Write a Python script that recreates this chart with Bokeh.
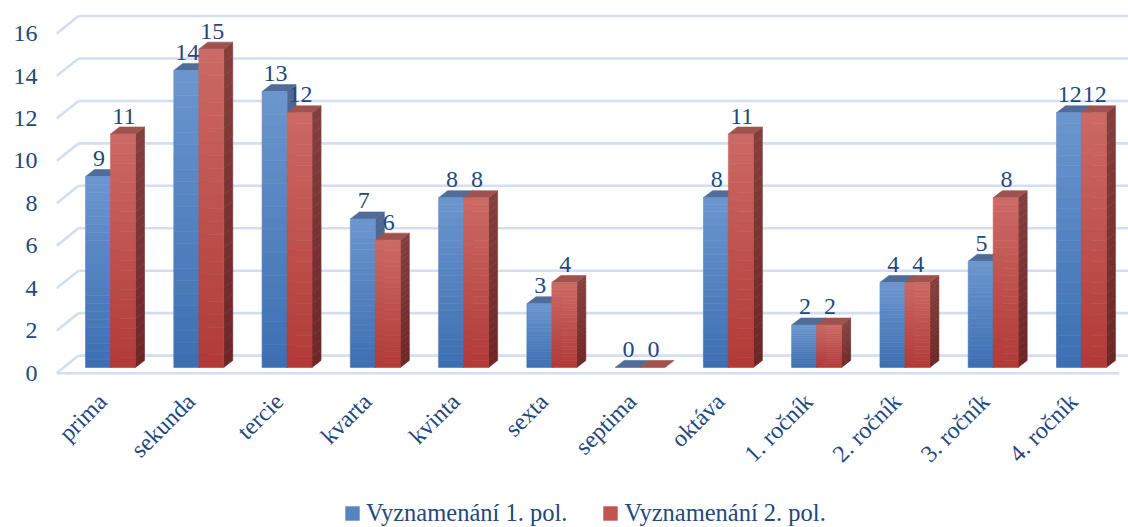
import math
from bokeh.plotting import figure
from bokeh.models import Range1d, FixedTicker, Legend, LegendItem
from bokeh.embed import file_html
from bokeh.resources import INLINE
from bokeh.core.properties import value

# ---------------- data ----------------
categories = ["prima", "sekunda", "tercie", "kvarta", "kvinta", "sexta", "septima",
              "oktáva", "1. ročník", "2. ročník", "3. ročník", "4. ročník"]
series1 = [9, 14, 13, 7, 8, 3, 0, 8, 2, 4, 5, 12]
series2 = [11, 15, 12, 6, 8, 4, 0, 11, 2, 4, 8, 12]
series_names = ["Vyznamenání 1. pol.", "Vyznamenání 2. pol."]
y_ticks = [0, 2, 4, 6, 8, 10, 12, 14, 16]

# ---------------- style ----------------
FONT = "Liberation Serif"
TXT = "#23487e"
GRID = "#d3deef"
W_BAR = 0.283      # bar width (category units)
DX, DY = 0.102, 0.33   # bar depth offset
BASE = 0.27        # bar base height over front floor edge
BACK_DX, BACK_DY = 0.25, 0.83  # back wall offset
LABEL_GAP = 0.85
AXIS_Y = -0.156    # where the category axis sits
LABEL_SHIFT = -0.09  # category label anchor shift
N = 24

blue = dict(top=(108, 150, 206), bot=(60, 111, 178), stop=(78, 104, 148), sbot=(62, 88, 134), cap=(80, 109, 154))
red = dict(top=(204, 106, 102), bot=(177, 58, 54), stop=(132, 64, 62), sbot=(110, 38, 37), cap=(160, 82, 79))


def lerp(c1, c2, t):
    return "#%02x%02x%02x" % tuple(int(round(a + (b - a) * t)) for a, b in zip(c1, c2))


X0, X1 = -0.612, 11.533
p = figure(width=1128, height=527, output_backend="svg", toolbar_location=None,
           x_range=Range1d(X0, X1), y_range=Range1d(-7.272, 17.563),
           min_border_left=56, min_border_right=0, min_border_top=0, min_border_bottom=0)
p.outline_line_color = None
p.xgrid.visible = False
p.ygrid.visible = False

# ---------------- walls / gridlines ----------------
back_x0 = X0 + BACK_DX
p.segment(x0=[back_x0] * len(y_ticks), y0=[t + BACK_DY for t in y_ticks],
          x1=[X1 + 1] * len(y_ticks), y1=[t + BACK_DY for t in y_ticks],
          line_color=GRID, line_width=2.6)
p.segment(x0=[X0] * len(y_ticks), y0=y_ticks,
          x1=[back_x0] * len(y_ticks), y1=[t + BACK_DY for t in y_ticks],
          line_color=GRID, line_width=2.6)
p.segment(x0=[X0], y0=[0], x1=[11.43], y1=[0], line_color=GRID, line_width=2.6)

# ---------------- 3D bars ----------------
labels_x, labels_y, labels_t = [], [], []
for s, (vals, col) in enumerate([(series1, blue), (series2, red)]):
    fl, fr, fb, ft, fc = [], [], [], [], []
    sxs, sys_, sc = [], [], []
    cxs, cys, cc = [], [], []
    for i, v in enumerate(vals):
        x0 = i - W_BAR if s == 0 else i
        x1 = x0 + W_BAR
        top = BASE + v
        if v > 0:
            for j in range(N):
                ya = BASE + v * j / N
                yb = BASE + v * (j + 1) / N
                f = (j + 0.5) / N
                fl.append(x0); fr.append(x1); fb.append(ya); ft.append(yb)
                fc.append(lerp(col["bot"], col["top"], f))
                sxs.append([x1, x1 + DX, x1 + DX, x1])
                sys_.append([ya, ya + DY, yb + DY, yb])
                sc.append(lerp(col["sbot"], col["stop"], f))
        cxs.append([x0, x1, x1 + DX, x0 + DX])
        cys.append([top, top, top + DY, top + DY])
        cc.append(lerp(col["cap"], col["cap"], 0))
        labels_x.append((x0 + x1) / 2 + 0.01)
        labels_y.append(top + LABEL_GAP)
        labels_t.append(str(v))
    if sxs:
        p.patches(xs=sxs, ys=sys_, fill_color=sc, line_color=sc, line_width=0.6)
    p.patches(xs=cxs, ys=cys, fill_color=cc, line_color=cc, line_width=0.6)
    if fl:
        p.quad(left=fl, right=fr, bottom=fb, top=ft, fill_color=fc, line_color=fc, line_width=0.6)

p.text(x=labels_x, y=labels_y, text=labels_t, text_align="center", text_baseline="alphabetic",
       text_font=value(FONT), text_font_size="24px", text_color=TXT)

# ---------------- axes ----------------
for ax in (p.xaxis, p.yaxis):
    ax.axis_line_color = None
    ax.major_tick_line_color = None
    ax.minor_tick_line_color = None
    ax.major_tick_in = 0
    ax.major_tick_out = 0
    ax.major_label_text_font = FONT
    ax.major_label_text_font_size = "24px"
    ax.major_label_text_color = TXT

p.yaxis.ticker = FixedTicker(ticks=y_ticks)
p.yaxis.major_label_standoff = 19
x_ticks = [i + LABEL_SHIFT for i in range(len(categories))]
p.xaxis.ticker = FixedTicker(ticks=x_ticks)
p.xaxis.major_label_overrides = {t: c for t, c in zip(x_ticks, categories)}
p.xaxis.major_label_orientation = math.pi / 4
p.xaxis.major_label_standoff = 21
p.xaxis.fixed_location = AXIS_Y

# ---------------- legend ----------------
nan = float("nan")
r1 = p.quad(left=[nan], right=[nan], top=[nan], bottom=[nan],
            fill_color=lerp(blue["bot"], blue["top"], 0.55), line_color=None)
r2 = p.quad(left=[nan], right=[nan], top=[nan], bottom=[nan],
            fill_color=lerp(red["bot"], red["top"], 0.55), line_color=None)
legend = Legend(items=[LegendItem(label=series_names[0], renderers=[r1]),
                       LegendItem(label=series_names[1], renderers=[r2])],
                orientation="horizontal", location=(287, 0),
                glyph_width=18, glyph_height=18, label_standoff=5, spacing=34,
                padding=0, margin=0, border_line_color=None, background_fill_alpha=0,
                label_text_font=FONT, label_text_font_size="24.5px", label_text_color=TXT)
p.add_layout(legend)

open("out.html", "w").write(file_html(p, INLINE))
